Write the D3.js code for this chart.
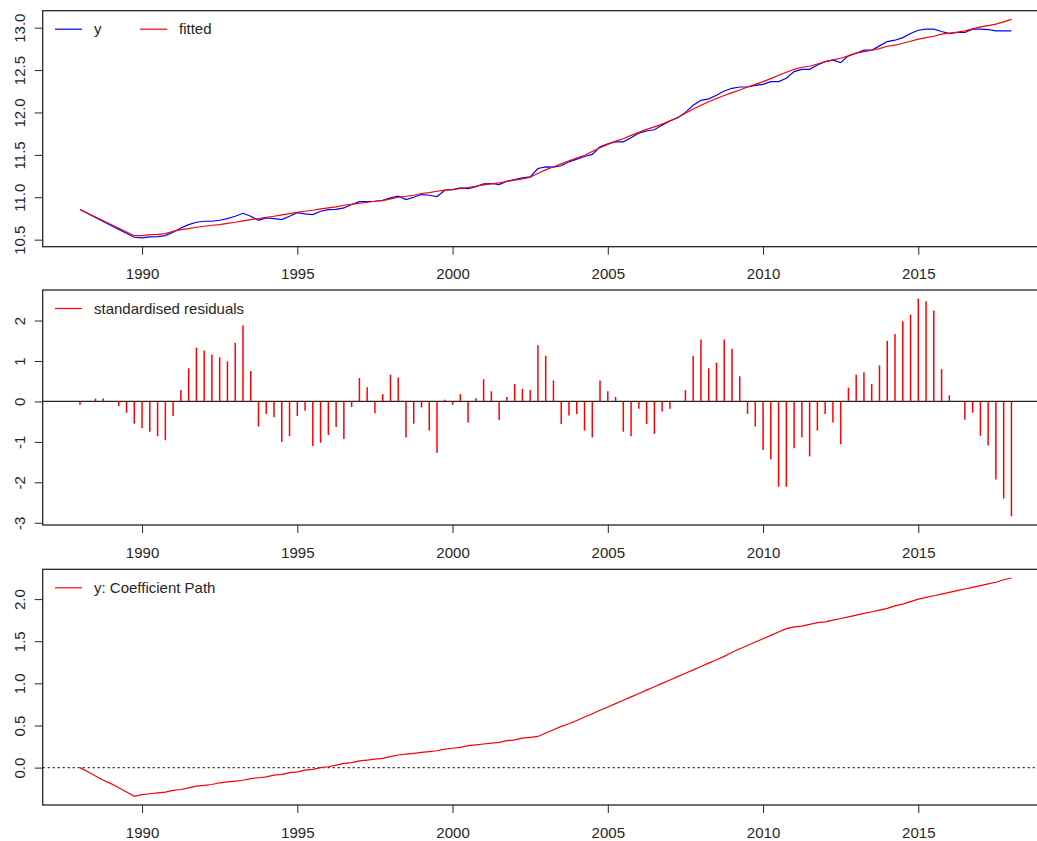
<!DOCTYPE html>
<html>
<head>
<meta charset="utf-8">
<script src="https://cdn.jsdelivr.net/npm/d3@7"></script>
<style>
body { margin: 0; background: #fff; }
svg { display: block; font-family: "Liberation Sans", Arial, sans-serif; }
</style>
</head>
<body>
<div id="chart"></div>
<script>
// quarterly series, 1988 Q1 .. 2018 Q1
const startYear = 1988;
const freq = 4;

const yValues = [
  10.855, 10.808, 10.762, 10.715, 10.668, 10.621, 10.575, 10.528, 10.520, 10.532,
  10.536, 10.547, 10.587, 10.638, 10.677, 10.705, 10.717, 10.717, 10.729, 10.748,
  10.776, 10.811, 10.776, 10.729, 10.756, 10.748, 10.736, 10.776, 10.819, 10.803,
  10.796, 10.835, 10.855, 10.858, 10.874, 10.914, 10.949, 10.949, 10.953, 10.965,
  10.993, 11.012, 10.973, 11.000, 11.032, 11.024, 11.008, 11.083, 11.091, 11.111,
  11.103, 11.126, 11.158, 11.162, 11.150, 11.190, 11.209, 11.229, 11.241, 11.339,
  11.359, 11.355, 11.371, 11.418, 11.450, 11.481, 11.505, 11.595, 11.631, 11.654,
  11.654, 11.702, 11.757, 11.781, 11.796, 11.851, 11.899, 11.938, 12.001, 12.084,
  12.143, 12.160, 12.202, 12.253, 12.285, 12.300, 12.300, 12.320, 12.332, 12.364,
  12.364, 12.403, 12.482, 12.509, 12.509, 12.560, 12.600, 12.616, 12.588, 12.667,
  12.699, 12.734, 12.734, 12.785, 12.836, 12.852, 12.883, 12.931, 12.970, 12.982,
  12.982, 12.955, 12.931, 12.943, 12.943, 12.982, 12.982, 12.978, 12.963, 12.963,
  12.963
];

const fittedValues = [
  10.855, 10.811, 10.767, 10.723, 10.679, 10.635, 10.591, 10.547, 10.547, 10.559,
  10.563, 10.571, 10.598, 10.618, 10.630, 10.646, 10.658, 10.670, 10.677, 10.693,
  10.705, 10.721, 10.736, 10.748, 10.764, 10.776, 10.792, 10.807, 10.823, 10.835,
  10.847, 10.862, 10.874, 10.886, 10.906, 10.917, 10.929, 10.941, 10.953, 10.961,
  10.981, 11.000, 11.012, 11.024, 11.044, 11.055, 11.071, 11.083, 11.091, 11.103,
  11.115, 11.130, 11.146, 11.158, 11.170, 11.186, 11.201, 11.217, 11.237, 11.284,
  11.323, 11.359, 11.394, 11.430, 11.462, 11.495, 11.540, 11.583, 11.624, 11.662,
  11.690, 11.730, 11.765, 11.800, 11.830, 11.862, 11.903, 11.940, 11.990, 12.040,
  12.085, 12.127, 12.164, 12.200, 12.234, 12.265, 12.300, 12.332, 12.364, 12.399,
  12.439, 12.474, 12.509, 12.533, 12.545, 12.572, 12.600, 12.620, 12.639, 12.667,
  12.699, 12.718, 12.734, 12.753, 12.781, 12.793, 12.816, 12.840, 12.864, 12.883,
  12.899, 12.923, 12.935, 12.947, 12.963, 12.986, 13.010, 13.025, 13.041, 13.069,
  13.097
];

const residValues = [
  -0.08, 0.00, 0.07, 0.07, 0.00, -0.12, -0.28, -0.55, -0.66, -0.75,
  -0.86, -0.96, -0.36, 0.28, 0.82, 1.33, 1.26, 1.16, 1.09, 0.99,
  1.45, 1.88, 0.75, -0.62, -0.31, -0.39, -1.00, -0.86, -0.36, -0.23,
  -1.10, -1.02, -0.83, -0.63, -0.93, -0.14, 0.58, 0.35, -0.29, 0.18,
  0.66, 0.59, -0.89, -0.55, -0.15, -0.72, -1.27, 0.04, -0.08, 0.18,
  -0.52, 0.08, 0.55, 0.25, -0.46, 0.11, 0.43, 0.31, 0.28, 1.39,
  1.13, 0.52, -0.56, -0.35, -0.31, -0.72, -0.89, 0.52, 0.25, 0.11,
  -0.75, -0.86, -0.18, -0.56, -0.80, -0.25, -0.18, 0.00, 0.28, 1.13,
  1.53, 0.82, 0.96, 1.53, 1.30, 0.62, -0.31, -0.62, -1.20, -1.43,
  -2.11, -2.11, -1.16, -0.89, -1.36, -0.72, -0.31, -0.52, -1.06, 0.34,
  0.66, 0.72, 0.43, 0.89, 1.50, 1.67, 1.98, 2.15, 2.54, 2.48,
  2.25, 0.80, 0.15, 0.00, -0.45, -0.28, -0.85, -1.09, -1.93, -2.40,
  -2.84
];

const coefPath = [
  0.00, -0.05, -0.10, -0.15, -0.19, -0.24, -0.29, -0.34, -0.32, -0.31,
  -0.30, -0.29, -0.27, -0.26, -0.24, -0.22, -0.21, -0.20, -0.18, -0.17,
  -0.16, -0.15, -0.13, -0.12, -0.11, -0.09, -0.08, -0.06, -0.05, -0.03,
  -0.02, 0.00, 0.01, 0.03, 0.05, 0.06, 0.08, 0.09, 0.10, 0.11,
  0.13, 0.15, 0.16, 0.17, 0.18, 0.19, 0.20, 0.22, 0.23, 0.24,
  0.26, 0.27, 0.28, 0.29, 0.30, 0.32, 0.33, 0.35, 0.36, 0.37,
  0.41, 0.45, 0.49, 0.52, 0.56, 0.60, 0.64, 0.68, 0.72, 0.76,
  0.80, 0.84, 0.88, 0.92, 0.96, 1.00, 1.04, 1.08, 1.12, 1.16,
  1.20, 1.24, 1.28, 1.32, 1.37, 1.41, 1.45, 1.49, 1.53, 1.57,
  1.61, 1.65, 1.67, 1.68, 1.70, 1.72, 1.73, 1.75, 1.77, 1.79,
  1.81, 1.83, 1.85, 1.87, 1.89, 1.92, 1.94, 1.97, 2.00, 2.02,
  2.04, 2.06, 2.08, 2.10, 2.12, 2.14, 2.16, 2.18, 2.20, 2.23,
  2.25
];

const xTicks = [1990, 1995, 2000, 2005, 2010, 2015];
const yTicks1 = [10.5, 11.0, 11.5, 12.0, 12.5, 13.0];
const yTicks2 = [-3, -2, -1, 0, 1, 2];
const yTicks3 = [0.0, 0.5, 1.0, 1.5, 2.0];

const w = 1037;
const h = 841;
const left = 42.7;
const right = 1048.7;
const panels = [
  { top: 10.7, bottom: 246.7 },
  { top: 290, bottom: 525 },
  { top: 569.3, bottom: 805 }
];
const ink = "#262626";
const fontSize = 15;

const times = yValues.map((d, i) => startYear + i / freq);

// R style axis range: data extent padded by 4% each side
function padded(ext) {
  const r = ext[1] - ext[0];
  return [ext[0] - 0.04 * r, ext[1] + 0.04 * r];
}

const svg = d3.select("#chart")
  .append("svg")
  .attr("width", w)
  .attr("height", h);

const xScale = d3.scaleLinear()
  .domain(padded(d3.extent(times)))
  .range([left, right]);

function frame(p, yScale, ticks, fmt) {
  const xAxis = svg.append("g")
    .attr("transform", "translate(0," + p.bottom + ")")
    .call(d3.axisBottom(xScale).tickValues(xTicks).tickSize(8).tickFormat(d3.format("d")));
  xAxis.select(".domain").remove();
  xAxis.selectAll("line").attr("stroke", ink);
  xAxis.selectAll("text")
    .attr("y", 22)
    .attr("dy", "0.71em")
    .attr("fill", ink)
    .style("font-size", fontSize + "px")
    .style("font-family", "'Liberation Sans', Arial, sans-serif");

  const yAxis = svg.append("g")
    .attr("transform", "translate(" + left + ",0)")
    .call(d3.axisLeft(yScale).tickValues(ticks).tickSize(8).tickFormat(fmt));
  yAxis.select(".domain").remove();
  yAxis.selectAll("line").attr("stroke", ink);
  yAxis.selectAll("text")
    .attr("x", 0)
    .attr("y", -18)
    .attr("dy", 0)
    .attr("transform", "rotate(-90)")
    .attr("text-anchor", "middle")
    .attr("fill", ink)
    .style("font-size", fontSize + "px")
    .style("font-family", "'Liberation Sans', Arial, sans-serif");

  svg.append("rect")
    .attr("x", left)
    .attr("y", p.top)
    .attr("width", right - left)
    .attr("height", p.bottom - p.top)
    .attr("fill", "none")
    .attr("stroke", ink)
    .attr("stroke-width", 1.3);
}

function legend(p, items) {
  const ly = p.top + 18.5;
  items.forEach(it => {
    svg.append("line")
      .attr("x1", it.x).attr("x2", it.x + 27)
      .attr("y1", ly).attr("y2", ly)
      .attr("stroke", it.color)
      .attr("stroke-width", 1.2);
    svg.append("text")
      .attr("x", it.x + 39)
      .attr("y", ly)
      .attr("dy", "0.35em")
      .attr("fill", ink)
      .style("font-size", fontSize + "px")
      .text(it.label);
  });
}

// panel 1: y and fitted
const p1 = panels[0];
const y1 = d3.scaleLinear()
  .domain(padded(d3.extent(yValues.concat(fittedValues))))
  .range([p1.bottom, p1.top]);
frame(p1, y1, yTicks1, d3.format(".1f"));

const line1 = d3.line().x((d, i) => xScale(times[i])).y(d => y1(d));
svg.append("path")
  .datum(yValues)
  .attr("d", line1)
  .attr("fill", "none")
  .attr("stroke", "#0000ff")
  .attr("stroke-width", 1.2);
svg.append("path")
  .datum(fittedValues)
  .attr("d", line1)
  .attr("fill", "none")
  .attr("stroke", "#ff0000")
  .attr("stroke-width", 1.2);
legend(p1, [
  { x: 55, color: "#0000ff", label: "y" },
  { x: 140, color: "#ff0000", label: "fitted" }
]);

// panel 2: standardised residuals
const p2 = panels[1];
const y2 = d3.scaleLinear()
  .domain(padded(d3.extent(residValues)))
  .range([p2.bottom, p2.top]);
frame(p2, y2, yTicks2, d => String(d));

svg.append("line")
  .attr("x1", left).attr("x2", right)
  .attr("y1", y2(0)).attr("y2", y2(0))
  .attr("stroke", ink)
  .attr("stroke-width", 1.3);

svg.append("g")
  .selectAll("line")
  .data(residValues)
  .enter()
  .append("line")
  .attr("x1", (d, i) => xScale(times[i]))
  .attr("x2", (d, i) => xScale(times[i]))
  .attr("y1", y2(0))
  .attr("y2", d => y2(d))
  .attr("stroke", "#ff0000")
  .attr("stroke-width", 1.5);
legend(p2, [{ x: 55, color: "#ff0000", label: "standardised residuals" }]);

// panel 3: coefficient path
const p3 = panels[2];
const y3 = d3.scaleLinear()
  .domain(padded(d3.extent(coefPath)))
  .range([p3.bottom, p3.top]);
frame(p3, y3, yTicks3, d3.format(".1f"));

svg.append("line")
  .attr("x1", left).attr("x2", right)
  .attr("y1", y3(0)).attr("y2", y3(0))
  .attr("stroke", ink)
  .attr("stroke-width", 1.2)
  .attr("stroke-dasharray", "2,3");

svg.append("path")
  .datum(coefPath)
  .attr("d", d3.line().x((d, i) => xScale(times[i])).y(d => y3(d)))
  .attr("fill", "none")
  .attr("stroke", "#ff0000")
  .attr("stroke-width", 1.2);
legend(p3, [{ x: 55, color: "#ff0000", label: "y: Coefficient Path" }]);
</script>
</body>
</html>
